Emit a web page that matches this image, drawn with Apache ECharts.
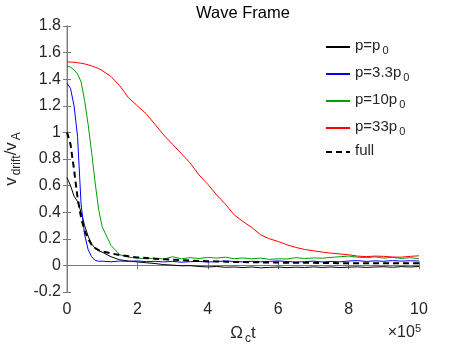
<!DOCTYPE html>
<html><head><meta charset="utf-8">
<script src="https://cdn.jsdelivr.net/npm/echarts@6/dist/echarts.min.js"></script>
<style>html,body{margin:0;padding:0;background:#fff}#c{width:463px;height:348px}</style>
</head><body><div id="c"></div>
<script>
// time in units of 1e5 (Omega_c t)
const t = [0,0.1,0.2,0.3,0.4,0.5,0.6,0.7,0.8,0.9,1.0,1.25,1.5,1.75,2.0,2.25,2.5,2.75,3.0,3.25,3.5,3.75,4.0,4.25,4.5,4.75,5.0,5.25,5.5,5.75,6.0,6.25,6.5,6.75,7.0,7.25,7.5,7.75,8.0,8.25,8.5,8.75,9.0,9.25,9.5,9.75,10.0];
const p1 = [0.66,0.60,0.52,0.48,0.40,0.30,0.22,0.16,0.13,0.11,0.10,0.065,0.042,0.033,0.026,0.02,0.014,0.006,0.002,-0.003,-0.002,-0.008,-0.012,-0.008,-0.014,-0.012,-0.016,-0.012,-0.018,-0.015,-0.012,-0.017,-0.013,-0.016,-0.011,-0.015,-0.012,-0.016,-0.013,-0.011,-0.015,-0.012,-0.010,-0.014,-0.009,-0.012,-0.008];
const p33 = [1.37,1.33,1.20,0.97,0.46,0.23,0.12,0.065,0.038,0.031,0.032,0.027,0.033,0.030,0.034,0.028,0.031,0.026,0.030,0.024,0.028,0.030,0.025,0.029,0.033,0.030,0.026,0.031,0.027,0.030,0.034,0.029,0.025,0.028,0.032,0.026,0.030,0.027,0.033,0.036,0.030,0.034,0.031,0.036,0.032,0.035,0.033];
const p10 = [1.50,1.49,1.47,1.44,1.38,1.24,1.06,0.85,0.62,0.42,0.29,0.15,0.08,0.062,0.055,0.050,0.055,0.048,0.065,0.050,0.058,0.052,0.060,0.055,0.062,0.050,0.056,0.050,0.055,0.045,0.050,0.048,0.058,0.052,0.056,0.054,0.060,0.065,0.070,0.062,0.058,0.064,0.055,0.060,0.052,0.058,0.050];
const p33b = [1.53,1.529,1.527,1.524,1.52,1.515,1.508,1.50,1.49,1.48,1.465,1.42,1.35,1.26,1.20,1.14,1.06,0.98,0.91,0.84,0.77,0.68,0.61,0.53,0.46,0.38,0.33,0.285,0.23,0.20,0.18,0.155,0.135,0.12,0.11,0.10,0.092,0.086,0.08,0.07,0.066,0.07,0.068,0.063,0.062,0.068,0.072];
const full = [1.0,0.91,0.72,0.51,0.36,0.26,0.20,0.155,0.13,0.115,0.105,0.09,0.078,0.068,0.060,0.055,0.050,0.046,0.042,0.039,0.036,0.034,0.032,0.030,0.028,0.026,0.025,0.024,0.023,0.022,0.021,0.020,0.020,0.019,0.019,0.018,0.018,0.017,0.017,0.017,0.016,0.016,0.016,0.016,0.016,0.016,0.016];
const seriesNames = ['p=p0','p=3.3p0','p=10p0','p=33p0','full'];
const legendRich = ['{m|p=p}{s|0}','{m|p=3.3p}{s|0}','{m|p=10p}{s|0}','{m|p=33p}{s|0}','{m|full}'];
const seriesColors = ['#000000','#0000ff','#00a000','#ff0000','#000000'];
const seriesValues = [p1,p33,p10,p33b,full];
const yTicks = {min:-0.2, max:1.8, interval:0.2};
const xTicks = {min:0, max:10, interval:2};

const FONT = '"Liberation Sans", Arial, Helvetica, sans-serif';
const TXT = '#262626';
function mkRich(mSize, sSize, pad){
  return {
    m:{fontFamily:FONT,fontSize:mSize,color:TXT,lineHeight:mSize+3,verticalAlign:'top'},
    s:{fontFamily:FONT,fontSize:sSize,color:TXT,lineHeight:sSize,padding:[pad,0,0,2],verticalAlign:'bottom'}
  };
}
const chart = echarts.init(document.getElementById('c'), null, {renderer:'canvas'});
const fmt = v => String(+(+v).toFixed(1));
const axisLine = {show:true, lineStyle:{color:'#7a7a7a', width:1}};
const tick = {inside:true, length:4, lineStyle:{color:'#7a7a7a'}};
const opt = {
  animation:false,
  grid:{left:67, right:44, top:26, bottom:56, containLabel:false, outerBoundsMode:'none'},
  legend:{
    left:325, top:35, orient:'vertical', itemWidth:24, itemHeight:10, itemGap:6, padding:0,
    data:seriesNames,
    formatter: n => legendRich[seriesNames.indexOf(n)],
    itemStyle:{opacity:0},
    textStyle:{fontFamily:FONT, fontSize:15, color:TXT, rich:mkRich(15,11,10)}
  },
  xAxis:[
    {type:'value', min:xTicks.min, max:xTicks.max, interval:xTicks.interval, position:'bottom',
     axisLine:axisLine, axisTick:tick,
     axisLabel:{fontFamily:FONT, fontSize:16, color:TXT, margin:10, formatter:fmt},
     splitLine:{show:false},
     name:'{m|Ω}{s|c}{m|t}', nameLocation:'middle', nameGap:33,
     nameTextStyle:{fontFamily:FONT, fontSize:17, color:TXT, rich:mkRich(17,12,10)}},
    {type:'value', min:xTicks.min, max:xTicks.max, interval:xTicks.interval, position:'top',
     axisLine:axisLine, axisTick:tick, axisLabel:{show:false}, splitLine:{show:false}}
  ],
  yAxis:[
    {type:'value', min:yTicks.min, max:yTicks.max, interval:yTicks.interval, position:'left',
     axisLine:{show:true, lineStyle:{color:'#c4c4c4', width:2}}, axisTick:tick,
     axisLabel:{fontFamily:FONT, fontSize:16, color:TXT, margin:6, formatter:fmt},
     splitLine:{show:false},
     name:'{m|v}{s|drift}{m|/v}{s|A}', nameLocation:'middle', nameGap:41, nameRotate:90,
     nameTextStyle:{fontFamily:FONT, fontSize:17, color:TXT, rich:mkRich(17,12,10)}},
    {type:'value', min:yTicks.min, max:yTicks.max, interval:yTicks.interval, position:'right',
     axisLine:axisLine, axisTick:tick, axisLabel:{show:false}, splitLine:{show:false}}
  ],
  graphic:[
    {type:'text', x:67 + (463-67-44)/2, y:5,
     style:{text:'Wave Frame', textAlign:'center', font:'16.5px '+FONT, fill:'#000'}},
    {type:'text', x:421, y:323,
     style:{text:'{m|×10}{u|5}', textAlign:'right', fill:TXT,
       rich:{m:{fontFamily:FONT,fontSize:16,color:TXT,lineHeight:18,verticalAlign:'bottom',padding:[8,0,0,0]},
             u:{fontFamily:FONT,fontSize:11,color:TXT,lineHeight:12,verticalAlign:'top'}}}}
  ],
  series: seriesNames.map((n,i)=>({
    name:n, type:'line', showSymbol:false, symbol:'none', smooth:false,
    xAxisIndex:0, yAxisIndex:0,
    data: t.map((x,k)=>[x, seriesValues[i][k]]),
    lineStyle:{color:seriesColors[i], width: i===4?2:1, type: i===4?[6,4]:'solid'},
    itemStyle:{color:seriesColors[i]},
    z: i===4?5:2
  }))
};
chart.setOption(opt);
</script></body></html>
